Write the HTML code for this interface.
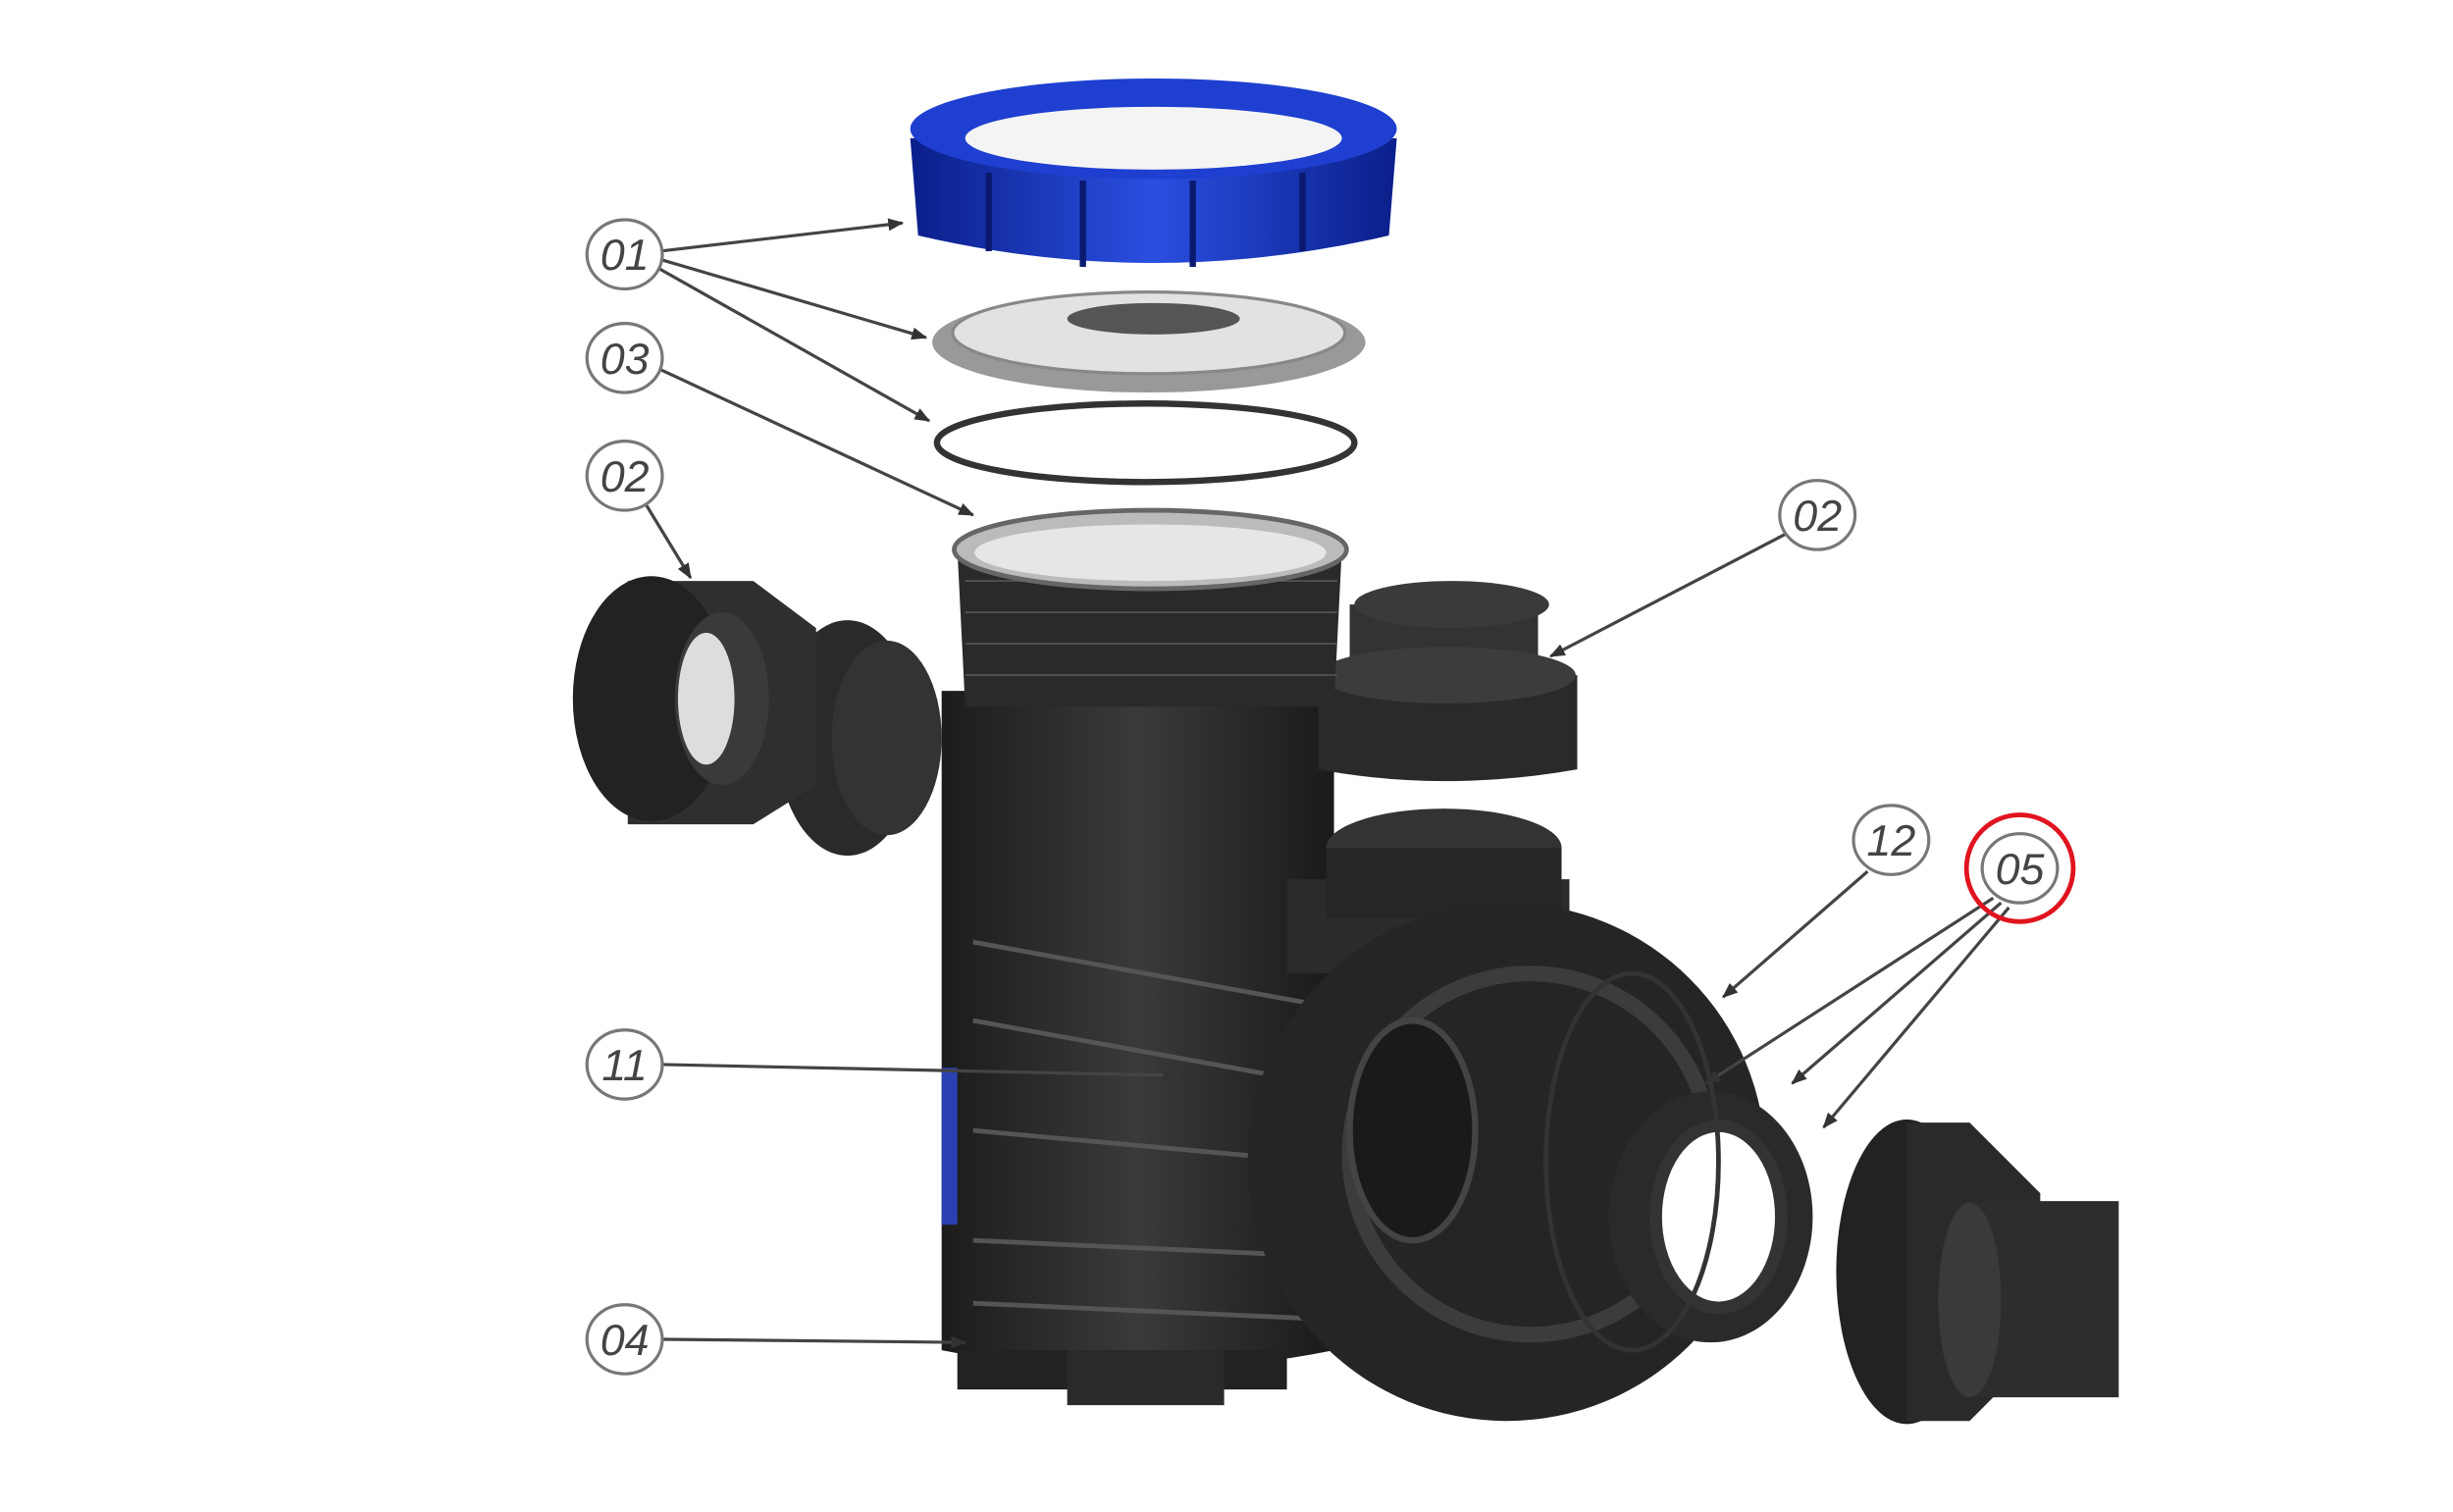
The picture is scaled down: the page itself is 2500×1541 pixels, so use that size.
<!DOCTYPE html>
<html><head><meta charset="utf-8"><style>
html,body{margin:0;padding:0;background:#fff;}
svg{display:block;}
text{font-family:"Liberation Sans",sans-serif;font-style:italic;font-size:28px;fill:#444;}
</style></head><body>
<svg width="2500" height="1541" viewBox="0 0 1563 963" preserveAspectRatio="none">
<defs>
<marker id="a" markerWidth="10" markerHeight="8" refX="9" refY="4" orient="auto" markerUnits="userSpaceOnUse"><path d="M0,0 L10,4 L0,8z" fill="#333"/></marker>
<linearGradient id="dk" x1="0" x2="1"><stop offset="0" stop-color="#1c1c1c"/><stop offset=".5" stop-color="#3a3a3a"/><stop offset="1" stop-color="#1a1a1a"/></linearGradient>
<linearGradient id="bl" x1="0" x2="1"><stop offset="0" stop-color="#0a1f8a"/><stop offset=".5" stop-color="#2a4fe0"/><stop offset="1" stop-color="#0a1f8a"/></linearGradient>
</defs>
<rect width="1563" height="963" fill="#fff"/>
<!-- pump body -->
<path d="M600,440 L850,440 L850,860 Q725,885 600,860 Z" fill="url(#dk)"/>
<rect x="600" y="680" width="10" height="100" fill="#2a3fb0"/>
<path d="M610,860 L820,860 L820,885 L610,885Z" fill="#222"/>
<path d="M680,860 L780,860 L780,895 L680,895Z" fill="#2a2a2a"/>
<!-- ribs -->
<g stroke="#555" stroke-width="3" fill="none">
<path d="M620,600 L840,640"/><path d="M620,650 L840,690"/><path d="M620,720 L840,740"/><path d="M620,790 L840,800"/><path d="M620,830 L840,840"/>
</g>
<!-- volute -->
<path d="M820,560 L1000,560 L1000,620 L820,620Z" fill="#2b2b2b"/>
<ellipse cx="920" cy="540" rx="75" ry="25" fill="#333"/>
<rect x="845" y="540" width="150" height="45" fill="#262626"/>
<circle cx="960" cy="740" r="165" fill="#252525"/>
<circle cx="975" cy="735" r="115" fill="none" stroke="#3c3c3c" stroke-width="10"/>
<ellipse cx="900" cy="720" rx="40" ry="70" fill="#1a1a1a" stroke="#444" stroke-width="4"/>
<!-- left union -->
<ellipse cx="540" cy="470" rx="45" ry="75" fill="#2a2a2a"/>
<ellipse cx="565" cy="470" rx="35" ry="62" fill="#333"/>
<path d="M400,370 L480,370 L520,400 L520,500 L480,525 L400,525Z" fill="#2f2f2f"/>
<ellipse cx="415" cy="445" rx="50" ry="78" fill="#222"/>
<ellipse cx="460" cy="445" rx="30" ry="55" fill="#3a3a3a"/>
<ellipse cx="450" cy="445" rx="18" ry="42" fill="#ddd"/>
<!-- right union -->
<rect x="860" y="385" width="120" height="60" fill="#333"/>
<ellipse cx="925" cy="385" rx="62" ry="15" fill="#3a3a3a"/>
<path d="M840,430 L1005,430 L1005,490 Q920,505 840,490Z" fill="#2a2a2a"/>
<ellipse cx="922" cy="430" rx="82" ry="18" fill="#3c3c3c"/>
<!-- basket -->
<path d="M610,350 L855,350 L850,450 L615,450Z" fill="#2a2a2a"/>
<g stroke="#555" stroke-width="1">
<path d="M615,370 L852,370 M615,390 L852,390 M615,410 L852,410 M615,430 L852,430"/>
</g>
<ellipse cx="733" cy="350" rx="125" ry="25" fill="#bbb" stroke="#666" stroke-width="3"/>
<ellipse cx="733" cy="352" rx="112" ry="18" fill="#e6e6e6"/>
<!-- o-ring -->
<ellipse cx="730" cy="282" rx="133" ry="25" fill="none" stroke="#333" stroke-width="4"/>
<!-- lid -->
<ellipse cx="732" cy="218" rx="138" ry="32" fill="#999"/>
<ellipse cx="732" cy="212" rx="125" ry="26" fill="#e2e2e2" stroke="#888" stroke-width="2"/>
<ellipse cx="735" cy="203" rx="55" ry="10" fill="#555"/>
<!-- blue ring -->
<path d="M580,88 L890,88 L885,150 Q735,185 585,150Z" fill="url(#bl)"/>
<ellipse cx="735" cy="82" rx="155" ry="32" fill="#1e3fd0"/>
<ellipse cx="735" cy="88" rx="120" ry="20" fill="#f4f4f4"/>
<g stroke="#0a1a70" stroke-width="4"><path d="M630,110 L630,160 M690,115 L690,170 M760,115 L760,170 M830,110 L830,160"/></g>
<!-- ring 05 -->
<ellipse cx="1090" cy="775" rx="65" ry="80" fill="#2a2a2a"/>
<ellipse cx="1095" cy="775" rx="40" ry="58" fill="#fff" stroke="#333" stroke-width="8"/>
<ellipse cx="1040" cy="740" rx="55" ry="120" fill="none" stroke="#333" stroke-width="3"/>
<!-- motor -->
<ellipse cx="1215" cy="810" rx="45" ry="97" fill="#222"/>
<path d="M1215,715 L1255,715 L1300,760 L1300,860 L1255,905 L1215,905Z" fill="#2a2a2a"/>
<path d="M1255,765 L1350,765 L1350,890 L1255,890Z" fill="#2d2d2d"/>
<ellipse cx="1255" cy="828" rx="20" ry="62" fill="#3a3a3a"/>
<!-- leaders -->
<g stroke="#444" stroke-width="2" marker-end="url(#a)">
<line x1="420" y1="160" x2="575" y2="142"/>
<line x1="420" y1="165" x2="590" y2="215"/>
<line x1="418" y1="170" x2="592" y2="268"/>
<line x1="420" y1="235" x2="620" y2="328"/>
<line x1="412" y1="322" x2="440" y2="368"/>
<line x1="1138" y1="340" x2="988" y2="418"/>
<line x1="1190" y1="555" x2="1098" y2="635"/>
<line x1="1270" y1="572" x2="1087" y2="690"/>
<line x1="1275" y1="575" x2="1142" y2="690"/>
<line x1="1280" y1="578" x2="1162" y2="718"/>
<line x1="422" y1="678" x2="750" y2="685"/>
<line x1="422" y1="853" x2="615" y2="855"/>
</g>
<!-- labels -->
<g fill="#fff" stroke="#777" stroke-width="2">
<ellipse cx="398" cy="162" rx="24" ry="22"/><ellipse cx="398" cy="228" rx="24" ry="22"/>
<ellipse cx="398" cy="303" rx="24" ry="22"/><ellipse cx="1158" cy="328" rx="24" ry="22"/>
<ellipse cx="1205" cy="535" rx="24" ry="22"/><ellipse cx="1287" cy="553" rx="24" ry="22"/>
<ellipse cx="398" cy="678" rx="24" ry="22"/><ellipse cx="398" cy="853" rx="24" ry="22"/>
</g>
<circle cx="1287" cy="553" r="34" fill="none" stroke="#e0141e" stroke-width="3"/>
<g text-anchor="middle">
<text x="398" y="172">01</text><text x="398" y="238">03</text><text x="398" y="313">02</text>
<text x="1158" y="338">02</text><text x="1205" y="545">12</text><text x="1287" y="563">05</text>
<text x="398" y="688">11</text><text x="398" y="863">04</text>
</g>
</svg>
</body></html>
